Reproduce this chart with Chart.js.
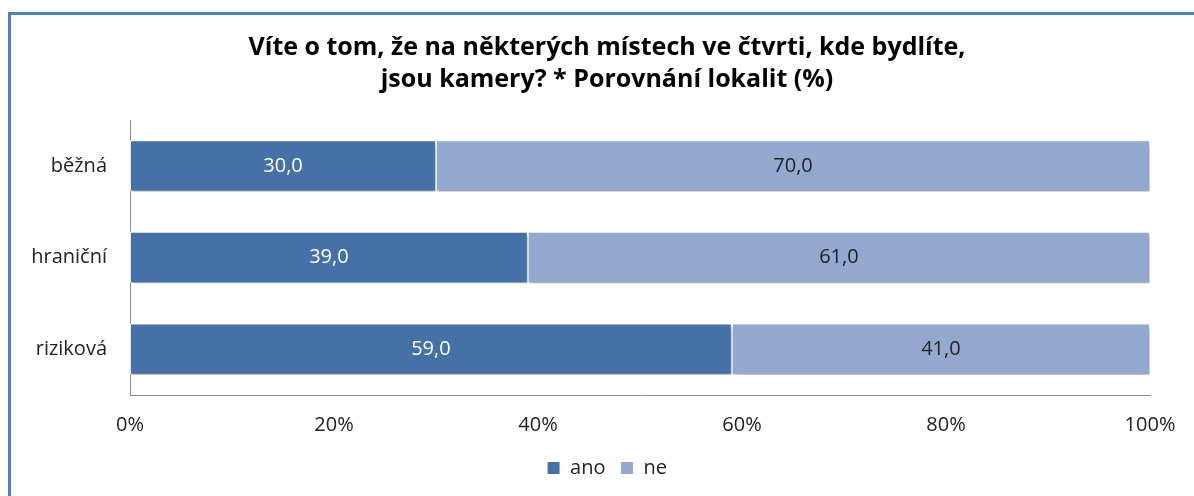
<!DOCTYPE html>
<html>
<head>
<meta charset="utf-8">
<script src="https://cdn.jsdelivr.net/npm/chart.js@4/dist/chart.umd.min.js"></script>
<style>
  html, body { margin: 0; padding: 0; background: #fff; overflow: hidden; }
  #frame {
    position: absolute; left: 8px; top: 12px;
    width: 1200px; height: 500px;
    border: 3px solid #4f81bd;
  }
  #wrap { position: absolute; left: 0; top: 0; width: 1194px; height: 496px; }
</style>
</head>
<body>
<div id="frame"></div>
<div id="wrap"><canvas id="chart"></canvas></div>
<script>
// Data
const categories = ['běžná', 'hraniční', 'riziková'];
const anoValues  = [30.0, 39.0, 59.0];
const neValues   = [70.0, 61.0, 41.0];
const seriesNames = ['ano', 'ne'];
const titleLines = [
  'Víte o tom, že na některých místech ve čtvrti, kde bydlíte,',
  'jsou kamery? * Porovnání lokalit (%)',
];

const COLORS = {
  ano:   '#4571a6',
  ne:    '#93a9cf',
  axis:  '#8c8c8c',
  text:  '#222222',
};

const FONT = "'Open Sans', Lato, sans-serif";

// soft drop shadow under the bars, like the office chart
const barShadow = {
  id: 'barShadow',
  beforeDatasetsDraw(chart) {
    const ctx = chart.ctx;
    ctx.save();
    ctx.shadowColor = 'rgba(0,0,0,0.35)';
    ctx.shadowBlur = 4;
    ctx.shadowOffsetX = 1;
    ctx.shadowOffsetY = 3;
  },
  afterDatasetsDraw(chart) {
    chart.ctx.restore();
  },
};

// value labels in the middle of each segment, comma as decimal mark
const valueLabels = {
  id: 'valueLabels',
  afterDraw(chart) {
    const ctx = chart.ctx;
    ctx.save();
    ctx.font = `20px ${FONT}`;
    ctx.textAlign = 'center';
    ctx.textBaseline = 'middle';
    chart.data.datasets.forEach((ds, i) => {
      const meta = chart.getDatasetMeta(i);
      meta.data.forEach((bar, j) => {
        const v = ds.data[j];
        const x = (bar.x + bar.base) / 2;
        ctx.fillStyle = i === 0 ? '#ffffff' : COLORS.text;
        ctx.fillText(v.toFixed(1).replace('.', ','), x, bar.y);
      });
    });
    ctx.restore();
  },
};

// category labels sit in the left padding; widen the y scale's label clip box
const unclipLabels = {
  id: 'unclipLabels',
  afterLayout(chart) {
    chart.scales.y.left = 0;
  },
};

new Chart(document.getElementById('chart'), {
  type: 'bar',
  data: {
    labels: categories,
    datasets: [
      { label: seriesNames[0], data: anoValues, backgroundColor: COLORS.ano },
      { label: seriesNames[1], data: neValues,  backgroundColor: COLORS.ne },
    ].map(d => Object.assign(d, {
      borderColor: '#ffffff',
      borderWidth: 1,
      borderSkipped: false,
      barPercentage: 0.56,
      categoryPercentage: 1.0,
    })),
  },
  options: {
    indexAxis: 'y',
    responsive: true,
    maintainAspectRatio: false,
    animation: false,
    // left padding centres title and legend over the frame like the original
    layout: { padding: { left: 64, right: 44, top: 0, bottom: 8 } },
    scales: {
      x: {
        stacked: true,
        min: 0,
        max: 100,
        grid: { display: false, drawTicks: false },
        border: { display: true, color: COLORS.axis, width: 1 },
        ticks: {
          stepSize: 20,
          padding: 18,
          color: COLORS.text,
          font: { family: FONT, size: 20 },
          callback: v => v + '%',
        },
        afterFit(scale) { scale.height = 48; },
      },
      y: {
        stacked: true,
        grid: { display: false, drawTicks: false },
        border: { display: true, color: COLORS.axis, width: 1 },
        ticks: {
          padding: 23,
          color: COLORS.text,
          font: { family: FONT, size: 20 },
        },
        afterFit(scale) { scale.width = 66; },
      },
    },
    plugins: {
      title: {
        display: true,
        text: titleLines,
        color: '#000000',
        font: { family: FONT, size: 25, weight: 'bold', lineHeight: 1.28 },
        padding: { top: 32, bottom: 24 },
      },
      legend: {
        position: 'bottom',
        labels: {
          boxWidth: 13,
          boxHeight: 13,
          padding: 15,
          color: COLORS.text,
          font: { family: FONT, size: 20 },
        },
      },
      tooltip: { enabled: false },
    },
  },
  plugins: [barShadow, valueLabels, unclipLabels],
});
</script>
</body>
</html>
